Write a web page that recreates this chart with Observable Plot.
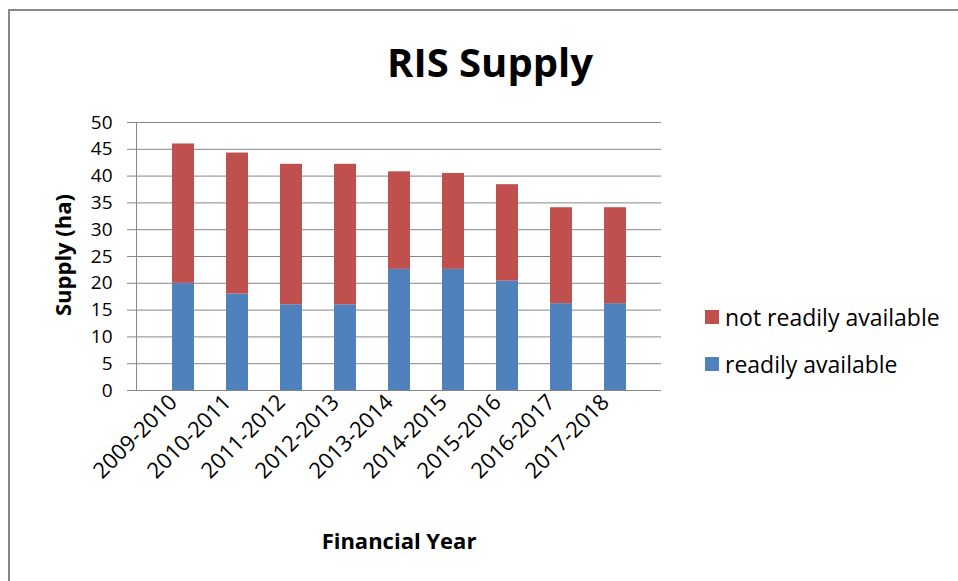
<!DOCTYPE html>
<html><head><meta charset="utf-8">
<script src="https://cdn.jsdelivr.net/npm/d3@7"></script>
<script src="https://cdn.jsdelivr.net/npm/@observablehq/plot@0.6"></script>
<style>
body{margin:0;background:#fff;}
#wrap{position:relative;width:958px;height:581px;overflow:hidden;font-family:"Open Sans",sans-serif;color:#000;}
#border{position:absolute;left:8px;top:9px;width:980px;height:600px;border-left:2px solid #888;border-top:2px solid #888;}
#chart{position:absolute;left:0;top:0;}
#title{position:absolute;left:0;width:980px;top:62px;transform:translateY(-50%);text-align:center;font-weight:bold;font-size:40px;line-height:48px;}
#ylab{position:absolute;left:62px;top:255px;transform:translate(-50%,-50%) rotate(-90deg);font-weight:bold;font-size:22px;white-space:nowrap;}
#xlab{position:absolute;left:399px;top:540px;transform:translate(-50%,-50%);font-weight:bold;font-size:22px;white-space:nowrap;}
.leg{position:absolute;left:705px;font-size:23px;line-height:28px;white-space:nowrap;display:flex;align-items:center;}
.sw{width:14px;height:14px;margin-right:6px;display:inline-block;}
</style>
</head><body>
<div id="wrap">
  <div id="chart"></div>
  <div id="border"></div>
  <div id="title">RIS Supply</div>
  <div id="ylab">Supply (ha)</div>
  <div id="xlab">Financial Year</div>
  <div id="legend"></div>
</div>
<script>
const years = ["2009-2010","2010-2011","2011-2012","2012-2013","2013-2014","2014-2015","2015-2016","2016-2017","2017-2018"];
const readilyAvailable = [20, 18, 16, 16, 22.6, 22.6, 20.4, 16.2, 16.2];
const notReadilyAvailable = [26, 26.3, 26.2, 26.2, 18.2, 17.9, 18, 17.9, 17.9];
const seriesNames = ["readily available", "not readily available"];
const seriesColors = ["#4F81BD", "#C0504D"];
const yTicks = [0,5,10,15,20,25,30,35,40,45,50];

const data = [];
years.forEach((y, i) => {
  data.push({year: y, series: seriesNames[0], value: readilyAvailable[i]});
  data.push({year: y, series: seriesNames[1], value: notReadilyAvailable[i]});
});

const plot = Plot.plot({
  width: 958,
  height: 581,
  marginLeft: 136,
  marginRight: 297,
  marginTop: 122,
  marginBottom: 191,
  style: {fontFamily: "'Open Sans', sans-serif", background: "transparent", color: "#000"},
  x: {type: "band", domain: years, padding: 0.6, label: null},
  y: {domain: [0, 50], label: null},
  color: {domain: seriesNames, range: seriesColors},
  marks: [
    Plot.gridY(yTicks, {stroke: "#878787", strokeOpacity: 1, strokeWidth: 1}),
    Plot.axisY(yTicks, {tickSize: 9, tickPadding: 15, fontSize: 19, stroke: "#878787", label: null}),
    Plot.barY(data, Plot.stackY({x: "year", y: "value", fill: "series", order: seriesNames})),
    Plot.ruleY([0], {stroke: "#878787"}),
    Plot.frame({anchor: "left", stroke: "#878787"}),
    Plot.axisX({tickSize: 0, tickRotate: -45, fontSize: 22, tickPadding: 8, dx: -10, label: null})
  ]
});
document.getElementById("chart").appendChild(plot);

const legend = document.getElementById("legend");
const legendOrder = [1, 0];
const legendTops = [317, 364];
legendOrder.forEach((k, j) => {
  const d = document.createElement("div");
  d.className = "leg";
  d.style.top = (legendTops[j] - 14) + "px";
  d.innerHTML = `<span class="sw" style="background:${seriesColors[k]}"></span>${seriesNames[k]}`;
  legend.appendChild(d);
});
</script>
</body></html>
